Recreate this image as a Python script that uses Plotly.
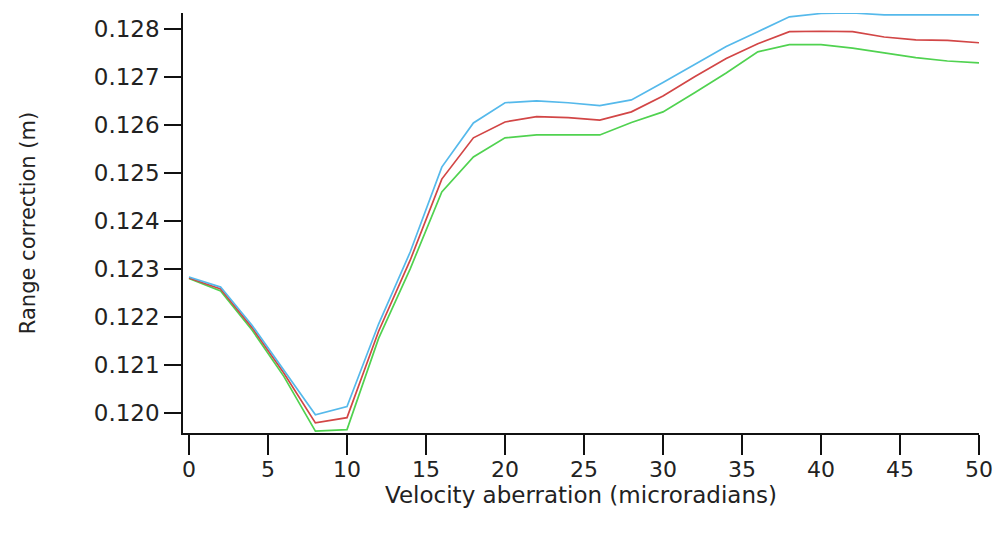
import plotly.graph_objects as go

aberration = [0, 2, 4, 6, 8, 10, 12, 14, 16, 18, 20, 22, 24, 26, 28, 30, 32, 34, 36, 38, 40, 42, 44, 46, 48, 50]

range_blue = [0.12283, 0.12262, 0.12182, 0.12090, 0.11996, 0.12013, 0.12185, 0.12335, 0.12512,
              0.12604, 0.12646, 0.12650, 0.12646, 0.12640, 0.12652, 0.12688, 0.12725, 0.12763,
              0.12794, 0.12825, 0.12832, 0.12833, 0.12829, 0.12829, 0.12829, 0.12829]
range_red = [0.12281, 0.12258, 0.12177, 0.12083, 0.11979, 0.11990, 0.12170, 0.12318, 0.12487,
             0.12573, 0.12606, 0.12617, 0.12615, 0.12610, 0.12627, 0.12660, 0.12700, 0.12738,
             0.12769, 0.12794, 0.12795, 0.12794, 0.12783, 0.12777, 0.12776, 0.12771]
range_green = [0.12280, 0.12254, 0.12172, 0.12076, 0.11962, 0.11965, 0.12155, 0.12300, 0.12460,
               0.12533, 0.12573, 0.12579, 0.12579, 0.12579, 0.12605, 0.12627, 0.12667, 0.12708,
               0.12752, 0.12767, 0.12767, 0.12760, 0.12750, 0.12740, 0.12733, 0.12729]

x_ticks = [0, 5, 10, 15, 20, 25, 30, 35, 40, 45, 50]
y_ticks = [0.120, 0.121, 0.122, 0.123, 0.124, 0.125, 0.126, 0.127, 0.128]

font_family = "DejaVu Sans"

fig = go.Figure()
fig.add_trace(go.Scatter(x=aberration, y=range_green, mode="lines",
                         line=dict(color="rgb(80,210,80)", width=1.7), showlegend=False))
fig.add_trace(go.Scatter(x=aberration, y=range_red, mode="lines",
                         line=dict(color="rgb(210,70,70)", width=1.7), showlegend=False))
fig.add_trace(go.Scatter(x=aberration, y=range_blue, mode="lines",
                         line=dict(color="rgb(85,185,235)", width=1.7), showlegend=False))

fig.update_layout(
    width=1005, height=534,
    margin=dict(l=183, r=24, t=13, b=101),
    paper_bgcolor="white", plot_bgcolor="white",
    font=dict(family=font_family, size=22, color="#222"),
    xaxis=dict(
        range=[-0.38, 50], tickvals=x_ticks, ticktext=[str(v) for v in x_ticks],
        ticks="outside", ticklen=20, tickwidth=1.5, tickcolor="#111",
        ticklabelstandoff=-4,
        showline=True, linecolor="#111", linewidth=1.5,
        showgrid=False, zeroline=False,
        title=dict(text="Velocity aberration (microradians)", standoff=4,
                   font=dict(size=23)),
        tickfont=dict(size=22),
    ),
    yaxis=dict(
        range=[0.11958, 0.12833], tickvals=y_ticks, ticktext=["%.3f" % v for v in y_ticks],
        ticks="outside", ticklen=17, tickwidth=1.5, tickcolor="#111",
        showline=True, linecolor="#111", linewidth=1.5,
        showgrid=False, zeroline=False,
        title=dict(text="Range correction (m)", standoff=52, font=dict(size=21)),
        tickfont=dict(size=23),
    ),
)

fig.write_html("out.html")
